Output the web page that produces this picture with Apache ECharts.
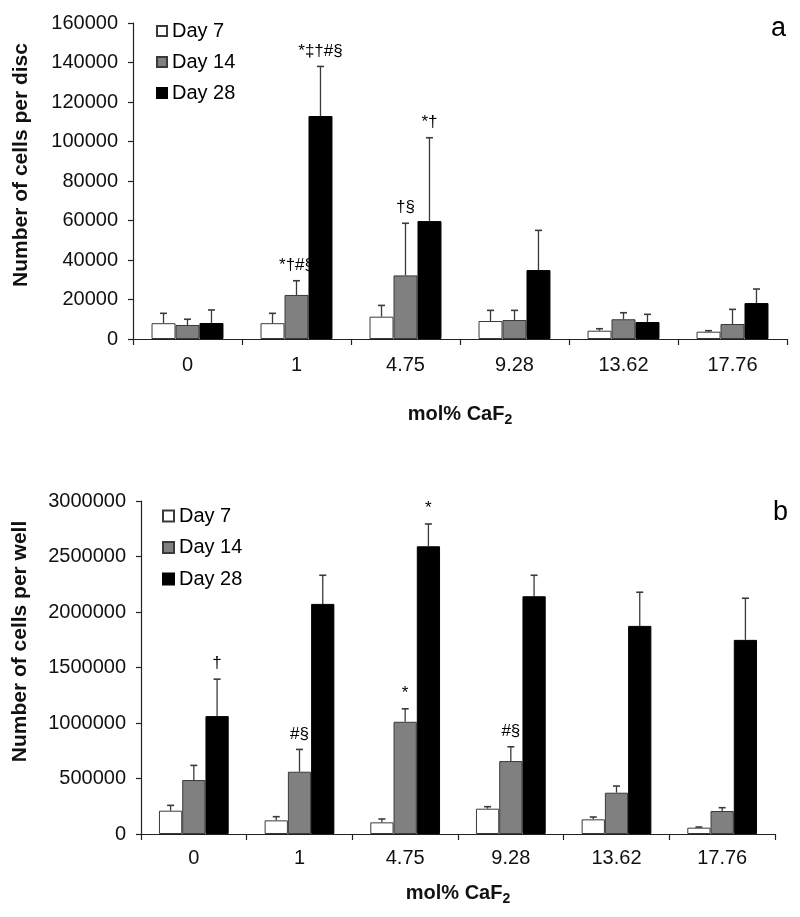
<!DOCTYPE html>
<html><head><meta charset="utf-8">
<script src="https://cdn.jsdelivr.net/npm/echarts@6/dist/echarts.min.js"></script>
<style>html,body{margin:0;padding:0;background:#fff}#c{width:800px;height:917px}</style>
</head><body><div id="c"></div>
<script>
const categories = ['0', '1', '4.75', '9.28', '13.62', '17.76'];
const seriesNames = ['Day 7', 'Day 14', 'Day 28'];
// Panel a: cells per disc
const discDay7 = [8000, 8000, 11300, 9100, 4200, 3700];
const discDay7Sd = [5000, 5000, 5700, 5400, 1000, 500];
const discDay14 = [7100, 22300, 32200, 9600, 10000, 7600];
const discDay14Sd = [2900, 7200, 26400, 4900, 3300, 7400];
const discDay28 = [8100, 112900, 59700, 34900, 8600, 18200];
const discDay28Sd = [6600, 25100, 42200, 20100, 3900, 7100];
const discAnn7 = ['', '', '', '', '', ''];
const discAnn14 = ['', '*†#§', '†§', '', '', ''];
const discAnn28 = ['', '*‡†#§', '*†', '', '', ''];
const discTicks = {min: 0, max: 160000, interval: 20000};
// Panel b: cells per well
const wellDay7 = [210000, 123000, 105000, 228000, 132000, 57000];
const wellDay7Sd = [48000, 33000, 30000, 18000, 21000, 6000];
const wellDay14 = [486000, 561000, 1011000, 657000, 372000, 207000];
const wellDay14Sd = [132000, 201000, 117000, 129000, 60000, 30000];
const wellDay28 = [1062000, 2073000, 2592000, 2142000, 1875000, 1749000];
const wellDay28Sd = [333000, 258000, 201000, 189000, 303000, 375000];
const wellAnn7 = ['', '', '', '', '', ''];
const wellAnn14 = ['', '#§', '*', '#§', '', ''];
const wellAnn28 = ['†', '', '*', '', '', ''];
const wellTicks = {min: 0, max: 3000000, interval: 500000};

const FONT = 'Liberation Sans, Arial, sans-serif';
const barStyles = [
  {color: '#ffffff', borderColor: '#3a3a3a', borderWidth: 1},
  {color: '#808080', borderColor: '#3a3a3a', borderWidth: 1},
  {color: '#000000', borderColor: '#000000', borderWidth: 1}
];
const offsets = [-0.22, 0, 0.22];

function errSeries(means, sds, anns, k, gi) {
  return {
    type: 'custom', xAxisIndex: gi, yAxisIndex: gi, z: 5, silent: true,
    data: means.map((m, i) => [i, m, m + sds[i]]),
    renderItem: function (params, api) {
      const i = api.value(0);
      const p = api.coord([i, api.value(1)]);
      const t = api.coord([i, api.value(2)]);
      const w = api.size([1, 0])[0];
      const cx = p[0] + offsets[k] * w;
      const ann = anns[i];
      const children = [
        {type: 'line', shape: {x1: cx, y1: p[1], x2: cx, y2: t[1]}, style: {stroke: '#3a3a3a', lineWidth: 1.3}},
        {type: 'line', shape: {x1: cx - 3.5, y1: t[1], x2: cx + 3.5, y2: t[1]}, style: {stroke: '#3a3a3a', lineWidth: 1.6}}
      ];
      if (ann) {
        children.push({type: 'text', style: {text: ann, x: cx, y: t[1] - 7, align: 'center', verticalAlign: 'bottom',
          font: '17px ' + FONT, fill: '#000'}});
      }
      return {type: 'group', children: children};
    }
  };
}

function barSeries(name, data, k, gi) {
  return {name: name, type: 'bar', xAxisIndex: gi, yAxisIndex: gi, data: data,
    barGap: '0%', barCategoryGap: '34%', itemStyle: barStyles[k], emphasis: {disabled: true}};
}

const axisLine = {show: true, lineStyle: {color: '#222', width: 1.2}};
function xAxis(gi, nameGap, margin) {
  return {type: 'category', gridIndex: gi, data: categories,
    axisLine: axisLine, axisTick: {show: true, length: 6, lineStyle: {color: '#222', width: 1.2}},
    axisLabel: {color: '#111', fontSize: 20, fontFamily: FONT, margin: margin},
    name: '{m|mol% CaF}{s|2}', nameLocation: 'middle', nameGap: nameGap,
    nameTextStyle: {rich: {
      m: {fontSize: 20, fontWeight: 'bold', fontFamily: FONT, color: '#111'},
      s: {fontSize: 14, fontWeight: 'bold', fontFamily: FONT, color: '#111', verticalAlign: 'bottom', padding: [12, 0, 0, 0]}
    }}
  };
}
function yAxis(gi, ticks, name, nameGap, shiftUp) {
  return {type: 'value', gridIndex: gi, min: ticks.min, max: ticks.max, interval: ticks.interval,
    axisLine: axisLine, axisTick: {show: true, length: 5, lineStyle: {color: '#222', width: 1.2}},
    splitLine: {show: false},
    axisLabel: {color: '#111', fontSize: 20, fontFamily: FONT, margin: 15, formatter: v => String(v)},
    name: name, nameLocation: 'middle', nameRotate: 90, nameGap: nameGap,
    nameTextStyle: {fontSize: 21, fontWeight: 'bold', fontFamily: FONT, color: '#111', padding: [0, 0, 0, shiftUp]}
  };
}

const chart = echarts.init(document.getElementById('c'), null, {renderer: 'canvas'});
chart.setOption({
  animation: false,
  backgroundColor: '#fff',
  title: [
    {text: 'a', left: 766, top: 10, textStyle: {fontSize: 27, fontWeight: 'normal', fontFamily: FONT, color: '#000'}},
    {text: 'b', left: 768, top: 494, textStyle: {fontSize: 27, fontWeight: 'normal', fontFamily: FONT, color: '#000'}}
  ],
  grid: [
    {left: 133, top: 23, width: 654, height: 316},
    {left: 141, top: 501, width: 634, height: 333}
  ],
  legend: [
    {orient: 'vertical', left: 151, top: 16, icon: 'rect', itemWidth: 10, itemHeight: 10, itemGap: 11, data: seriesNames,
      textStyle: {fontSize: 20, fontFamily: FONT, color: '#000', lineHeight: 20}, selectedMode: false},
    {orient: 'vertical', left: 157, top: 501, icon: 'rect', itemWidth: 11, itemHeight: 11, itemGap: 11.5, data: seriesNames,
      textStyle: {fontSize: 20, fontFamily: FONT, color: '#000', lineHeight: 20}, selectedMode: false}
  ],
  xAxis: [xAxis(0, 62, 16), xAxis(1, 46, 14)],
  yAxis: [yAxis(0, discTicks, 'Number of cells per disc', 101, 32), yAxis(1, wellTicks, 'Number of cells per well', 110, 52)],
  series: [
    barSeries(seriesNames[0], discDay7, 0, 0),
    barSeries(seriesNames[1], discDay14, 1, 0),
    barSeries(seriesNames[2], discDay28, 2, 0),
    errSeries(discDay7, discDay7Sd, discAnn7, 0, 0),
    errSeries(discDay14, discDay14Sd, discAnn14, 1, 0),
    errSeries(discDay28, discDay28Sd, discAnn28, 2, 0),
    barSeries(seriesNames[0], wellDay7, 0, 1),
    barSeries(seriesNames[1], wellDay14, 1, 1),
    barSeries(seriesNames[2], wellDay28, 2, 1),
    errSeries(wellDay7, wellDay7Sd, wellAnn7, 0, 1),
    errSeries(wellDay14, wellDay14Sd, wellAnn14, 1, 1),
    errSeries(wellDay28, wellDay28Sd, wellAnn28, 2, 1)
  ]
});
</script></body></html>
